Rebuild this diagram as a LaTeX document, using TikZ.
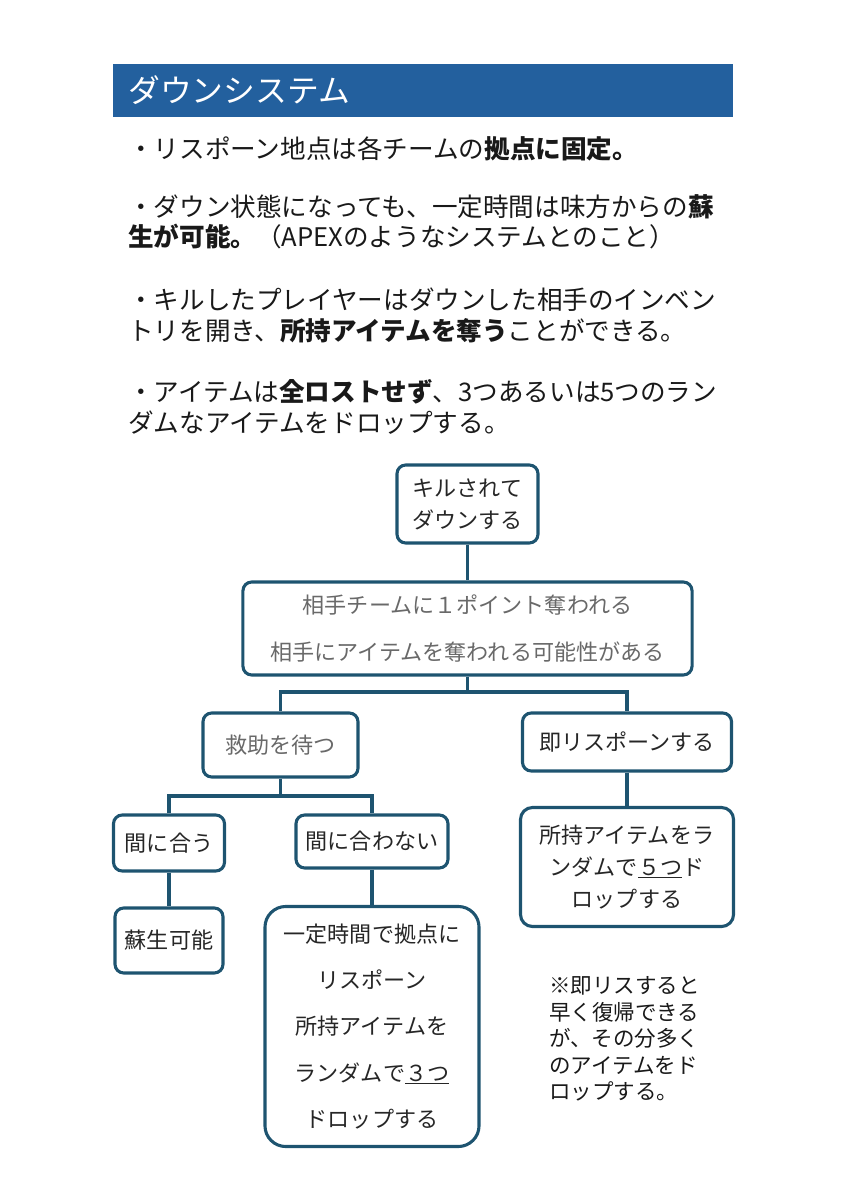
\documentclass[tikz,border=0pt]{standalone}
\usepackage{fontspec}
\setmainfont{Noto Sans CJK JP}
\definecolor{titleblue}{RGB}{35,96,158}
\definecolor{boxline}{RGB}{30,84,112}
\definecolor{graytext}{RGB}{105,105,105}
\definecolor{darktext}{RGB}{38,38,38}

\begin{document}
\begin{tikzpicture}[x=0.025cm, y=-0.025cm,
    box/.style={draw=boxline, line width=2.2pt, rounded corners=0.22cm, align=center, inner sep=0pt,
        text=darktext, font=\fontsize{15.7}{22.7}\selectfont},
    link/.style={draw=boxline, line width=2.2pt}]
    \useasboundingbox (0,0) rectangle (848,1200);

    % title bar
    \fill[titleblue] (113,64) rectangle (733,117);
    \node[anchor=base west, inner sep=0pt, text=white, font=\fontsize{22.6}{26}\selectfont] (title) at (128,103) {ダウンシステム};

    % body text
    \foreach \i/\y/\t in {1/149/{・リスポーン地点は各チームの\textbf{拠点に固定。}},
                          2/207/{・ダウン状態になっても、一定時間は味方からの\textbf{蘇}},
                          3/237/{\textbf{生が可能。}（APEXのようなシステムとのこと）},
                          4/300/{・キルしたプレイヤーはダウンした相手のインベン},
                          5/331/{トリを開き、\textbf{所持アイテムを奪う}ことができる。},
                          6/391/{・アイテムは\textbf{全ロストせず}、3つあるいは5つのラン},
                          7/422/{ダムなアイテムをドロップする。}}
        \node[anchor=base west, inner sep=0pt, text=black!90, font=\fontsize{18.2}{22}\selectfont] (line\i) at (128,\y+10) {\t};

    % boxes
    \node[box, minimum width=3.525cm, minimum height=1.95cm] (kill) at (467.5,504) {キルされて\\ダウンする};
    \node[box, minimum width=11.225cm, minimum height=2.325cm, text=graytext, font=\fontsize{15.7}{33.4}\selectfont] (team) at (467.5,628.5)
        {相手チームに１ポイント奪われる\\相手にアイテムを奪われる可能性がある};
    \node[box, minimum width=3.875cm, minimum height=1.6cm, text=graytext] (wait) at (280.5,745) {救助を待つ};
    \node[box, minimum width=5.225cm, minimum height=1.45cm] (instant) at (627,742) {即リスポーンする};
    \node[box, minimum width=2.775cm, minimum height=1.4cm] (meet) at (169,843) {間に合う};
    \node[box, minimum width=3.8cm, minimum height=1.325cm] (miss) at (372,841.5) {間に合わない};
    \node[box, minimum width=2.7cm, minimum height=1.625cm] (revive) at (169,940.5) {蘇生可能};
    \node[box, minimum width=5.35cm, minimum height=6cm, rounded corners=0.52cm, font=\fontsize{15.7}{33}\selectfont] (respawn) at (372,1026.5)
        {一定時間で拠点に\\リスポーン\\所持アイテムを\\ランダムで\underline{３つ}\\ドロップする};
    \node[box, minimum width=5.325cm, minimum height=2.975cm, rounded corners=0.3cm, font=\fontsize{15.7}{23}\selectfont] (drop) at (627,867)
        {所持アイテムをラ\\ンダムで\underline{５つ}ド\\ロップする};

    % connectors
    \coordinate (split1) at (467.5,692);
    \coordinate (split2) at (280.5,796);
    \draw[link] (kill) -- (team);
    \draw[link] (team) -- (split1);
    \draw[link] (wait.north) |- (split1) -| (instant.north);
    \draw[link] (wait) -- (split2);
    \draw[link] (meet.north) |- (split2) -| (miss.north);
    \draw[link] (meet) -- (revive);
    \draw[link] (miss) -- (respawn);
    \draw[link] (instant) -- (drop);

    % note
    \foreach \i/\y/\t in {1/985/{※即リスすると}, 2/1012/{早く復帰できる}, 3/1038/{が、その分多く},
                          4/1065/{のアイテムをド}, 5/1091/{ロップする。}}
        \node[anchor=base west, inner sep=0pt, text=black!90, font=\fontsize{15.3}{19}\selectfont] (note\i) at (549,\y+8) {\t};
\end{tikzpicture}
\end{document}
